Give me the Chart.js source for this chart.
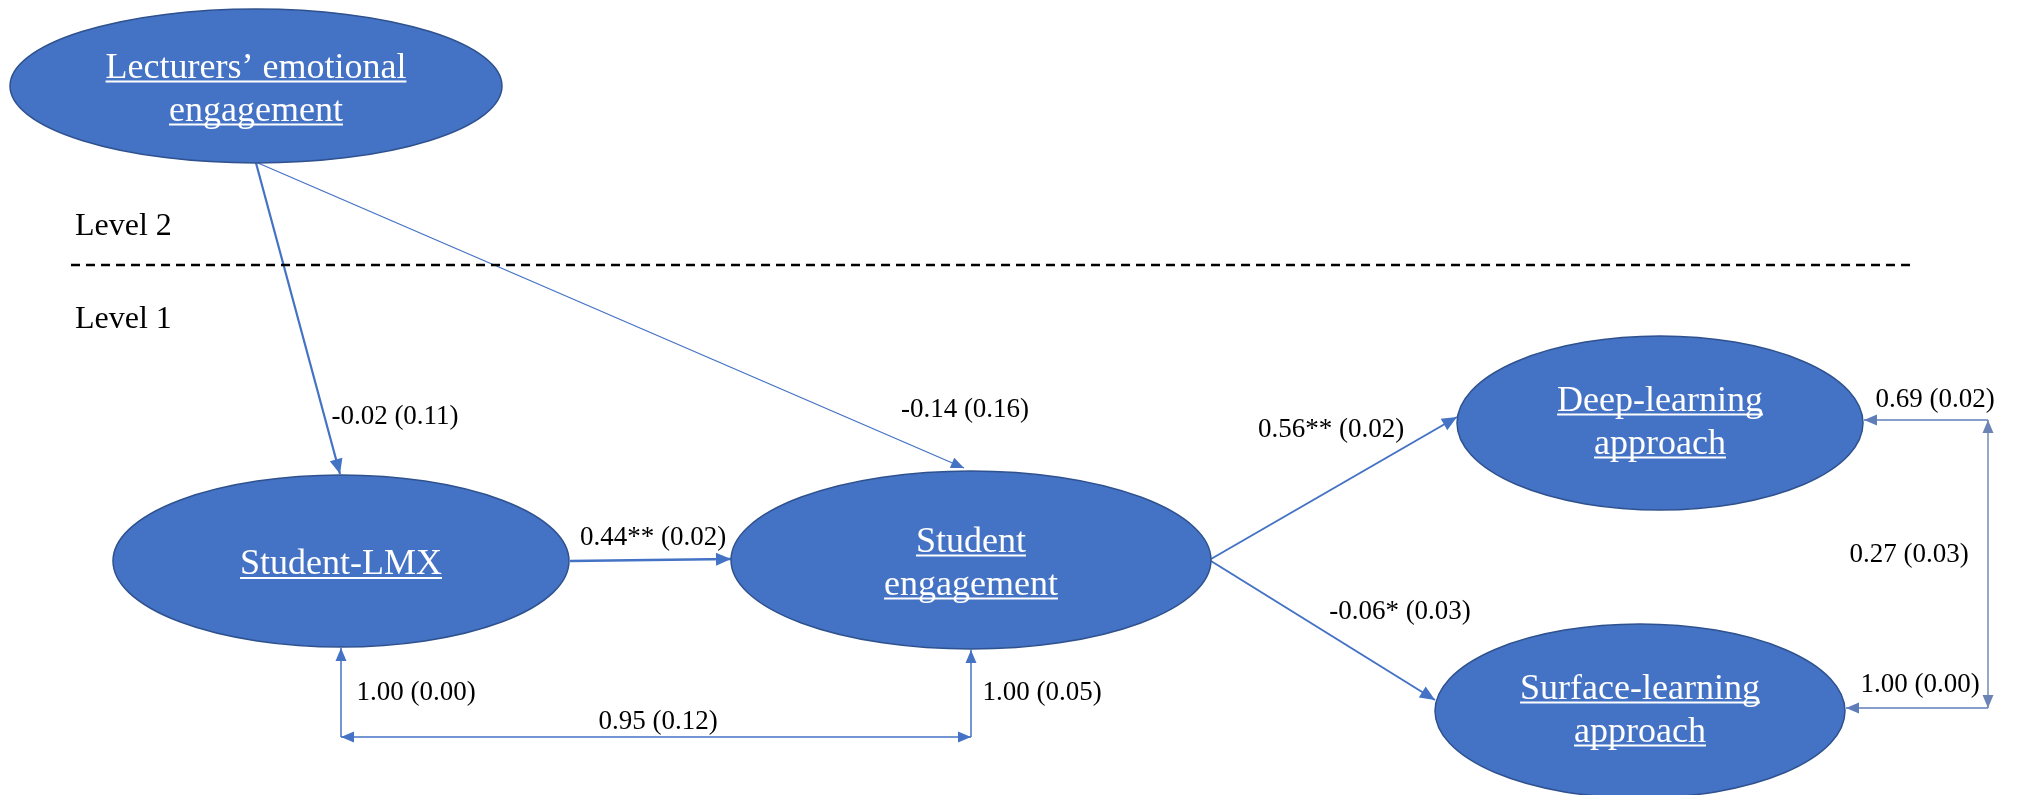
<!DOCTYPE html>
<html>
<head>
<meta charset="utf-8">
<script src="https://cdn.jsdelivr.net/npm/chart.js@4"></script>
<style>
  html, body { margin: 0; padding: 0; background: #fff; }
  canvas { display: block; }
</style>
</head>
<body>
<canvas id="diagram" width="2017" height="795"></canvas>
<script>
'use strict';

// latent variables (layout units, y grows downwards)
const nodeNames = [
    'Lecturers’ emotional\nengagement',
    'Student-LMX',
    'Student\nengagement',
    'Deep-learning\napproach',
    'Surface-learning\napproach',
];
const nodeX = [256, 341, 971, 1660, 1640];
const nodeY = [86, 561, 560, 423, 711];
const nodeRX = [246, 228, 240, 203, 205];
const nodeRY = [77, 86, 89, 87, 87];
// vertical nudge of the caption inside each ellipse
const nodeTextDY = [0, 0, 0, -4, -4];

// paths: list of points, which ends carry arrowheads
const pathPoints = [
    [[256, 163], [340, 474]],
    [[258, 163], [964, 468]],
    [[570, 561], [731, 559]],
    [[1211, 559], [1457, 417]],
    [[1211, 561], [1435, 700]],
    [[341, 737], [341, 648]],
    [[971, 737], [971, 650]],
    [[341, 737], [971, 737]],
    [[1988, 420], [1864, 420]],
    [[1988, 708], [1846, 708]],
    [[1988, 420], [1988, 708]],
];
const pathArrows = ['end', 'end', 'end', 'end', 'end', 'end', 'end', 'both', 'end', 'end', 'both'];
const pathWidths = [2.2, 1.3, 2.6, 2, 2, 1.5, 1.5, 1.5, 1.6, 1.6, 1.4];
const pathColors = ['#4472C4', '#4472C4', '#4472C4', '#4472C4', '#4472C4',
    '#4472C4', '#4472C4', '#4472C4', '#5F7DB8', '#5F7DB8', '#6A84B4'];

// estimates (standard errors)
const coefLabels = [
    '-0.02 (0.11)', '-0.14 (0.16)', '0.44** (0.02)', '0.56** (0.02)', '-0.06* (0.03)',
    '1.00 (0.00)', '1.00 (0.05)', '0.95 (0.12)', '0.69 (0.02)', '1.00 (0.00)', '0.27 (0.03)',
];
const coefX = [395, 965, 653, 1331, 1400, 416, 1042, 658, 1935, 1920, 1909];
const coefY = [417, 410, 538, 430, 612, 693, 693, 722, 400, 685, 555];

const levelLabels = ['Level 2', 'Level 1'];
const levelX = [75, 75];
const levelY = [227, 320];
const dividerX = [71, 1912];
const dividerY = 265;

const FONT = '"Liberation Serif", "Times New Roman", serif';

function arrowHead(ctx, x0, y0, x1, y1, len, half, color) {
    const a = Math.atan2(y1 - y0, x1 - x0);
    ctx.save();
    ctx.fillStyle = color;
    ctx.translate(x1, y1);
    ctx.rotate(a);
    ctx.beginPath();
    ctx.moveTo(0, 0);
    ctx.lineTo(-len, -half);
    ctx.lineTo(-len, half);
    ctx.closePath();
    ctx.fill();
    ctx.restore();
}

const diagramPlugin = {
    id: 'diagram',
    afterDatasetsDraw(chart) {
        const ctx = chart.ctx;
        const sx = chart.scales.x;
        const sy = chart.scales.y;
        const px = v => sx.getPixelForValue(v);
        const py = v => sy.getPixelForValue(v);

        // level labels
        ctx.save();
        ctx.fillStyle = '#000';
        ctx.font = '32px ' + FONT;
        ctx.textAlign = 'left';
        ctx.textBaseline = 'middle';
        levelLabels.forEach((t, i) => ctx.fillText(t, px(levelX[i]), py(levelY[i])));
        ctx.restore();

        // ellipses
        nodeNames.forEach((name, i) => {
            const cx = px(nodeX[i]);
            const cy = py(nodeY[i]);
            const rx = Math.abs(px(nodeX[i] + nodeRX[i]) - cx);
            const ry = Math.abs(py(nodeY[i] + nodeRY[i]) - cy);
            ctx.save();
            ctx.beginPath();
            ctx.ellipse(cx, cy, rx, ry, 0, 0, Math.PI * 2);
            ctx.fillStyle = '#4472C4';
            ctx.fill();
            ctx.lineWidth = 1.5;
            ctx.strokeStyle = '#2F528F';
            ctx.stroke();

            const lines = name.split('\n');
            ctx.font = '36px ' + FONT;
            ctx.fillStyle = '#fff';
            ctx.strokeStyle = '#fff';
            ctx.textAlign = 'center';
            ctx.textBaseline = 'alphabetic';
            ctx.lineWidth = 2;
            const lh = 43;
            let base = cy + nodeTextDY[i] - (lines.length - 1) * lh / 2 + 13;
            lines.forEach(l => {
                ctx.fillText(l, cx, base);
                const w = ctx.measureText(l).width;
                ctx.beginPath();
                ctx.moveTo(cx - w / 2, base + 4);
                ctx.lineTo(cx + w / 2, base + 4);
                ctx.stroke();
                base += lh;
            });
            ctx.restore();
        });

        // arrowheads
        pathPoints.forEach((pts, i) => {
            const big = pathWidths[i] >= 2;
            const len = big ? 15 : 13;
            const half = big ? 6.5 : 5.5;
            const p = pts.map(q => [px(q[0]), py(q[1])]);
            const n = p.length;
            arrowHead(ctx, p[n - 2][0], p[n - 2][1], p[n - 1][0], p[n - 1][1], len, half, pathColors[i]);
            if (pathArrows[i] === 'both') {
                arrowHead(ctx, p[1][0], p[1][1], p[0][0], p[0][1], len, half, pathColors[i]);
            }
        });

        // coefficient labels
        ctx.save();
        ctx.fillStyle = '#000';
        ctx.font = '27px ' + FONT;
        ctx.textAlign = 'center';
        ctx.textBaseline = 'middle';
        coefLabels.forEach((t, i) => ctx.fillText(t, px(coefX[i]), py(coefY[i])));
        ctx.restore();
    },
};

const datasets = pathPoints.map((pts, i) => ({
    data: pts.map(q => ({x: q[0], y: q[1]})),
    showLine: true,
    borderColor: pathColors[i],
    borderWidth: pathWidths[i],
    pointRadius: 0,
    fill: false,
}));
datasets.unshift({
    data: dividerX.map(x => ({x: x, y: dividerY})),
    showLine: true,
    borderColor: '#000',
    borderWidth: 2.5,
    borderDash: [9, 6],
    pointRadius: 0,
    fill: false,
});

new Chart(document.getElementById('diagram').getContext('2d'), {
    type: 'scatter',
    data: {datasets: datasets},
    options: {
        responsive: false,
        animation: false,
        devicePixelRatio: 1,
        events: [],
        layout: {padding: 0},
        plugins: {legend: {display: false}, tooltip: {enabled: false}},
        scales: {
            x: {type: 'linear', min: 0, max: 2017, display: false},
            y: {type: 'linear', min: 0, max: 795, reverse: true, display: false},
        },
    },
    plugins: [diagramPlugin],
});
</script>
</body>
</html>
